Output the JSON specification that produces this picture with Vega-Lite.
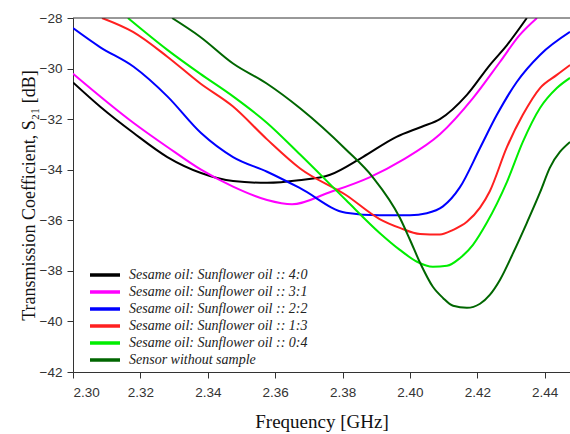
{
  "$schema": "https://vega.github.io/schema/vega-lite/v6.json",
  "width": 497,
  "height": 354,
  "autosize": {"type": "none"},
  "padding": {"left": 73, "top": 18, "right": 0, "bottom": 62},
  "background": "white",
  "config": {
    "view": {"stroke": null},
    "axis": {
      "labelFont": "Liberation Sans",
      "labelFontSize": 13.5,
      "labelColor": "#333333",
      "titleFont": "Liberation Serif",
      "titleFontSize": 19,
      "titleFontWeight": "normal",
      "titleColor": "#111111",
      "domainColor": "#333333",
      "tickColor": "#333333",
      "tickSize": 6,
      "grid": false
    }
  },
  "layer": [
    {
      "data": {
        "values": [
          {"f": 2.300, "s": -30.55, "series": "Sesame oil: Sunflower oil :: 4:0"},
          {"f": 2.308, "s": -31.5, "series": "Sesame oil: Sunflower oil :: 4:0"},
          {"f": 2.318, "s": -32.55, "series": "Sesame oil: Sunflower oil :: 4:0"},
          {"f": 2.328, "s": -33.5, "series": "Sesame oil: Sunflower oil :: 4:0"},
          {"f": 2.338, "s": -34.13, "series": "Sesame oil: Sunflower oil :: 4:0"},
          {"f": 2.3475, "s": -34.45, "series": "Sesame oil: Sunflower oil :: 4:0"},
          {"f": 2.3576, "s": -34.52, "series": "Sesame oil: Sunflower oil :: 4:0"},
          {"f": 2.367, "s": -34.42, "series": "Sesame oil: Sunflower oil :: 4:0"},
          {"f": 2.3763, "s": -34.2, "series": "Sesame oil: Sunflower oil :: 4:0"},
          {"f": 2.386, "s": -33.5, "series": "Sesame oil: Sunflower oil :: 4:0"},
          {"f": 2.396, "s": -32.7, "series": "Sesame oil: Sunflower oil :: 4:0"},
          {"f": 2.4035, "s": -32.3, "series": "Sesame oil: Sunflower oil :: 4:0"},
          {"f": 2.4089, "s": -32.0, "series": "Sesame oil: Sunflower oil :: 4:0"},
          {"f": 2.4169, "s": -31.04, "series": "Sesame oil: Sunflower oil :: 4:0"},
          {"f": 2.4237, "s": -29.86, "series": "Sesame oil: Sunflower oil :: 4:0"},
          {"f": 2.4288, "s": -29.07, "series": "Sesame oil: Sunflower oil :: 4:0"},
          {"f": 2.4347, "s": -28.0, "series": "Sesame oil: Sunflower oil :: 4:0"},

          {"f": 2.300, "s": -30.2, "series": "Sesame oil: Sunflower oil :: 3:1"},
          {"f": 2.318, "s": -32.15, "series": "Sesame oil: Sunflower oil :: 3:1"},
          {"f": 2.328, "s": -33.1, "series": "Sesame oil: Sunflower oil :: 3:1"},
          {"f": 2.338, "s": -34.0, "series": "Sesame oil: Sunflower oil :: 3:1"},
          {"f": 2.3475, "s": -34.67, "series": "Sesame oil: Sunflower oil :: 3:1"},
          {"f": 2.3576, "s": -35.2, "series": "Sesame oil: Sunflower oil :: 3:1"},
          {"f": 2.365, "s": -35.37, "series": "Sesame oil: Sunflower oil :: 3:1"},
          {"f": 2.376, "s": -34.9, "series": "Sesame oil: Sunflower oil :: 3:1"},
          {"f": 2.388, "s": -34.3, "series": "Sesame oil: Sunflower oil :: 3:1"},
          {"f": 2.398, "s": -33.6, "series": "Sesame oil: Sunflower oil :: 3:1"},
          {"f": 2.4089, "s": -32.6, "series": "Sesame oil: Sunflower oil :: 3:1"},
          {"f": 2.4187, "s": -31.17, "series": "Sesame oil: Sunflower oil :: 3:1"},
          {"f": 2.4267, "s": -29.74, "series": "Sesame oil: Sunflower oil :: 3:1"},
          {"f": 2.4326, "s": -28.67, "series": "Sesame oil: Sunflower oil :: 3:1"},
          {"f": 2.4377, "s": -28.0, "series": "Sesame oil: Sunflower oil :: 3:1"},

          {"f": 2.300, "s": -28.4, "series": "Sesame oil: Sunflower oil :: 2:2"},
          {"f": 2.308, "s": -29.15, "series": "Sesame oil: Sunflower oil :: 2:2"},
          {"f": 2.318, "s": -29.93, "series": "Sesame oil: Sunflower oil :: 2:2"},
          {"f": 2.328, "s": -31.1, "series": "Sesame oil: Sunflower oil :: 2:2"},
          {"f": 2.338, "s": -32.55, "series": "Sesame oil: Sunflower oil :: 2:2"},
          {"f": 2.3475, "s": -33.5, "series": "Sesame oil: Sunflower oil :: 2:2"},
          {"f": 2.3576, "s": -34.08, "series": "Sesame oil: Sunflower oil :: 2:2"},
          {"f": 2.3674, "s": -34.73, "series": "Sesame oil: Sunflower oil :: 2:2"},
          {"f": 2.381, "s": -35.7, "series": "Sesame oil: Sunflower oil :: 2:2"},
          {"f": 2.391, "s": -35.8, "series": "Sesame oil: Sunflower oil :: 2:2"},
          {"f": 2.400, "s": -35.8, "series": "Sesame oil: Sunflower oil :: 2:2"},
          {"f": 2.405, "s": -35.72, "series": "Sesame oil: Sunflower oil :: 2:2"},
          {"f": 2.4098, "s": -35.45, "series": "Sesame oil: Sunflower oil :: 2:2"},
          {"f": 2.4148, "s": -34.7, "series": "Sesame oil: Sunflower oil :: 2:2"},
          {"f": 2.4208, "s": -33.14, "series": "Sesame oil: Sunflower oil :: 2:2"},
          {"f": 2.4258, "s": -31.83, "series": "Sesame oil: Sunflower oil :: 2:2"},
          {"f": 2.4317, "s": -30.53, "series": "Sesame oil: Sunflower oil :: 2:2"},
          {"f": 2.4386, "s": -29.46, "series": "Sesame oil: Sunflower oil :: 2:2"},
          {"f": 2.4475, "s": -28.55, "series": "Sesame oil: Sunflower oil :: 2:2"},

          {"f": 2.3086, "s": -28.0, "series": "Sesame oil: Sunflower oil :: 1:3"},
          {"f": 2.3178, "s": -28.55, "series": "Sesame oil: Sunflower oil :: 1:3"},
          {"f": 2.328, "s": -29.53, "series": "Sesame oil: Sunflower oil :: 1:3"},
          {"f": 2.3377, "s": -30.58, "series": "Sesame oil: Sunflower oil :: 1:3"},
          {"f": 2.3475, "s": -31.5, "series": "Sesame oil: Sunflower oil :: 1:3"},
          {"f": 2.3576, "s": -32.8, "series": "Sesame oil: Sunflower oil :: 1:3"},
          {"f": 2.3674, "s": -33.95, "series": "Sesame oil: Sunflower oil :: 1:3"},
          {"f": 2.381, "s": -35.0, "series": "Sesame oil: Sunflower oil :: 1:3"},
          {"f": 2.391, "s": -35.95, "series": "Sesame oil: Sunflower oil :: 1:3"},
          {"f": 2.397, "s": -36.3, "series": "Sesame oil: Sunflower oil :: 1:3"},
          {"f": 2.403, "s": -36.54, "series": "Sesame oil: Sunflower oil :: 1:3"},
          {"f": 2.4089, "s": -36.56, "series": "Sesame oil: Sunflower oil :: 1:3"},
          {"f": 2.4128, "s": -36.38, "series": "Sesame oil: Sunflower oil :: 1:3"},
          {"f": 2.4169, "s": -36.06, "series": "Sesame oil: Sunflower oil :: 1:3"},
          {"f": 2.4208, "s": -35.5, "series": "Sesame oil: Sunflower oil :: 1:3"},
          {"f": 2.4237, "s": -34.85, "series": "Sesame oil: Sunflower oil :: 1:3"},
          {"f": 2.4288, "s": -33.1, "series": "Sesame oil: Sunflower oil :: 1:3"},
          {"f": 2.4335, "s": -31.83, "series": "Sesame oil: Sunflower oil :: 1:3"},
          {"f": 2.4386, "s": -30.77, "series": "Sesame oil: Sunflower oil :: 1:3"},
          {"f": 2.4436, "s": -30.25, "series": "Sesame oil: Sunflower oil :: 1:3"},
          {"f": 2.4475, "s": -29.86, "series": "Sesame oil: Sunflower oil :: 1:3"},

          {"f": 2.3163, "s": -28.0, "series": "Sesame oil: Sunflower oil :: 0:4"},
          {"f": 2.328, "s": -29.26, "series": "Sesame oil: Sunflower oil :: 0:4"},
          {"f": 2.3377, "s": -30.2, "series": "Sesame oil: Sunflower oil :: 0:4"},
          {"f": 2.3475, "s": -31.1, "series": "Sesame oil: Sunflower oil :: 0:4"},
          {"f": 2.3576, "s": -32.15, "series": "Sesame oil: Sunflower oil :: 0:4"},
          {"f": 2.3674, "s": -33.4, "series": "Sesame oil: Sunflower oil :: 0:4"},
          {"f": 2.381, "s": -35.2, "series": "Sesame oil: Sunflower oil :: 0:4"},
          {"f": 2.391, "s": -36.5, "series": "Sesame oil: Sunflower oil :: 0:4"},
          {"f": 2.397, "s": -37.17, "series": "Sesame oil: Sunflower oil :: 0:4"},
          {"f": 2.4021, "s": -37.64, "series": "Sesame oil: Sunflower oil :: 0:4"},
          {"f": 2.4068, "s": -37.84, "series": "Sesame oil: Sunflower oil :: 0:4"},
          {"f": 2.411, "s": -37.8, "series": "Sesame oil: Sunflower oil :: 0:4"},
          {"f": 2.4148, "s": -37.5, "series": "Sesame oil: Sunflower oil :: 0:4"},
          {"f": 2.4187, "s": -36.97, "series": "Sesame oil: Sunflower oil :: 0:4"},
          {"f": 2.4228, "s": -36.1, "series": "Sesame oil: Sunflower oil :: 0:4"},
          {"f": 2.4288, "s": -34.48, "series": "Sesame oil: Sunflower oil :: 0:4"},
          {"f": 2.4335, "s": -32.9, "series": "Sesame oil: Sunflower oil :: 0:4"},
          {"f": 2.4386, "s": -31.56, "series": "Sesame oil: Sunflower oil :: 0:4"},
          {"f": 2.4436, "s": -30.77, "series": "Sesame oil: Sunflower oil :: 0:4"},
          {"f": 2.4475, "s": -30.37, "series": "Sesame oil: Sunflower oil :: 0:4"},

          {"f": 2.3294, "s": -28.0, "series": "Sensor without sample"},
          {"f": 2.3377, "s": -28.74, "series": "Sensor without sample"},
          {"f": 2.3475, "s": -29.8, "series": "Sensor without sample"},
          {"f": 2.3576, "s": -30.6, "series": "Sensor without sample"},
          {"f": 2.3674, "s": -31.57, "series": "Sensor without sample"},
          {"f": 2.381, "s": -33.2, "series": "Sensor without sample"},
          {"f": 2.389, "s": -34.3, "series": "Sensor without sample"},
          {"f": 2.397, "s": -35.9, "series": "Sensor without sample"},
          {"f": 2.400, "s": -36.77, "series": "Sensor without sample"},
          {"f": 2.403, "s": -37.68, "series": "Sensor without sample"},
          {"f": 2.4068, "s": -38.63, "series": "Sensor without sample"},
          {"f": 2.4098, "s": -39.07, "series": "Sensor without sample"},
          {"f": 2.4128, "s": -39.38, "series": "Sensor without sample"},
          {"f": 2.4169, "s": -39.46, "series": "Sensor without sample"},
          {"f": 2.4208, "s": -39.3, "series": "Sensor without sample"},
          {"f": 2.4237, "s": -38.95, "series": "Sensor without sample"},
          {"f": 2.4267, "s": -38.36, "series": "Sensor without sample"},
          {"f": 2.4306, "s": -37.3, "series": "Sensor without sample"},
          {"f": 2.4347, "s": -36.1, "series": "Sensor without sample"},
          {"f": 2.4386, "s": -34.9, "series": "Sensor without sample"},
          {"f": 2.4415, "s": -33.93, "series": "Sensor without sample"},
          {"f": 2.4475, "s": -32.9, "series": "Sensor without sample"}
        ]
      },
      "mark": {"type": "line", "strokeWidth": 2, "interpolate": "monotone", "clip": true},
      "encoding": {
        "x": {
          "field": "f",
          "type": "quantitative",
          "scale": {"domain": [2.3, 2.4475], "nice": false, "zero": false},
          "axis": {
            "title": "Frequency [GHz]",
            "values": [2.30, 2.32, 2.34, 2.36, 2.38, 2.40, 2.42, 2.44],
            "format": ".2f",
            "labelPadding": 7,
            "titlePadding": 14
          }
        },
        "y": {
          "field": "s",
          "type": "quantitative",
          "scale": {"domain": [-42, -28], "nice": false, "zero": false},
          "axis": {
            "title": "Transmission Coefficient, S₂₁ [dB]",
            "titleFontSize": 18,
            "values": [-42, -40, -38, -36, -34, -32, -30, -28],
            "labelPadding": 5,
            "titlePadding": 1
          }
        },
        "color": {
          "field": "series",
          "type": "nominal",
          "sort": null,
          "scale": {
            "domain": [
              "Sesame oil: Sunflower oil :: 4:0",
              "Sesame oil: Sunflower oil :: 3:1",
              "Sesame oil: Sunflower oil :: 2:2",
              "Sesame oil: Sunflower oil :: 1:3",
              "Sesame oil: Sunflower oil :: 0:4",
              "Sensor without sample"
            ],
            "range": ["#000000", "#ff00ff", "#0000ff", "#ff2020", "#00ee00", "#006600"]
          },
          "legend": {
            "title": null,
            "orient": "none",
            "legendX": 15,
            "legendY": 250,
            "symbolType": "M-1,0H5",
            "symbolSize": 100,
            "symbolStrokeWidth": 3.5,
            "labelFont": "Liberation Serif",
            "labelFontStyle": "italic",
            "labelFontSize": 14,
            "labelColor": "#222222",
            "labelOffset": 27,
            "rowPadding": 3,
            "labelLimit": 400
          }
        }
      }
    },
    {
      "data": {"values": [{}]},
      "mark": {"type": "rule", "color": "#333333", "strokeWidth": 1},
      "encoding": {"y": {"datum": -28}}
    }
  ]
}
